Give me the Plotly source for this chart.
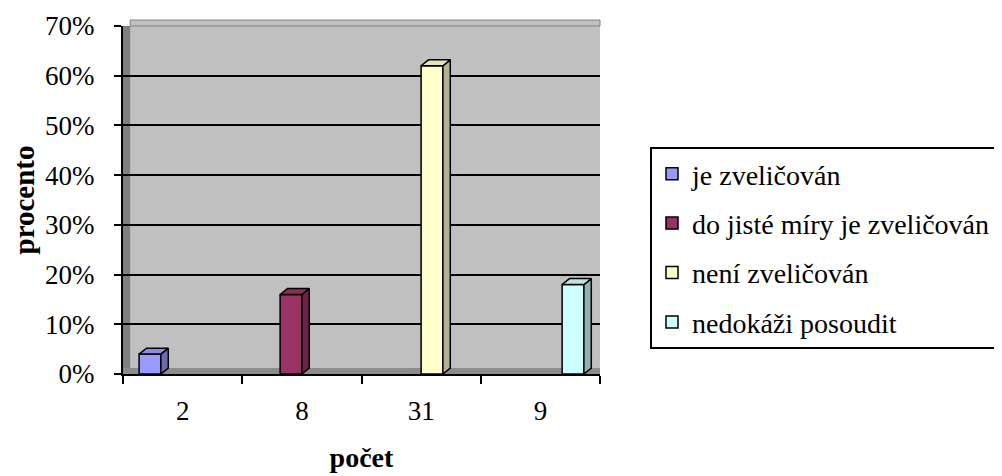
import plotly.graph_objects as go

# data
kategorie = ["2", "8", "31", "9"]
serie = ["je zveličován", "do jisté míry je zveličován", "není zveličován", "nedokáži posoudit"]
procenta = [4, 16, 62, 18]

barvy = ["#9999FF", "#993366", "#FFFFCC", "#CCFFFF"]
barvy_vrch = ["#8A8AE6", "#8A2E5C", "#E6E6B8", "#B8E6E6"]
barvy_bok = ["#6B6BB3", "#6B2447", "#B3B38F", "#8FB3B3"]

FONT = "Liberation Serif, Times New Roman, serif"
BARGAP = 0.27
DX = 0.062   # hloubka 3D efektu (osa x)
DY = 1.2     # hloubka 3D efektu (osa y, v %)

# stránka má okraj 8 px, proto je vše posunuto
L, T, B_Y, R_X = 115, 18, 366, 592
W, H = 1002, 476
plot_w, plot_h = R_X - L, B_Y - T

sirka = (1 - BARGAP) / len(serie)

fig = go.Figure()

# neviditelná stopa jen kvůli kategorické ose
fig.add_trace(go.Scatter(
    x=kategorie, y=[0] * len(kategorie), mode="markers",
    marker=dict(opacity=0), showlegend=False, hoverinfo="skip",
))

for i, (nazev, hodnota) in enumerate(zip(serie, procenta)):
    levy = i - (1 - BARGAP) / 2 + i * sirka
    pravy = levy + sirka
    stred = levy + sirka / 2

    # přední stěna sloupce
    fig.add_trace(go.Bar(
        x=[stred], y=[hodnota], width=[sirka], name=nazev, legendgroup=nazev,
        marker=dict(color=barvy[i], line=dict(color="black", width=1.5)),
        xaxis="x2", yaxis="y",
    ))
    # bok
    fig.add_trace(go.Scatter(
        x=[pravy, pravy + DX, pravy + DX, pravy, pravy],
        y=[0, DY, hodnota + DY, hodnota, 0],
        fill="toself", fillcolor=barvy_bok[i], mode="lines",
        line=dict(color="black", width=1.5),
        showlegend=False, hoverinfo="skip", xaxis="x2", yaxis="y",
    ))
    # vršek
    fig.add_trace(go.Scatter(
        x=[levy, levy + DX, pravy + DX, pravy, levy],
        y=[hodnota, hodnota + DY, hodnota + DY, hodnota, hodnota],
        fill="toself", fillcolor=barvy_vrch[i], mode="lines",
        line=dict(color="black", width=1.5),
        showlegend=False, hoverinfo="skip", xaxis="x2", yaxis="y",
    ))

fig.update_layout(
    width=W, height=H,
    margin=dict(l=L, r=W - R_X, t=T, b=H - B_Y, autoexpand=False),
    paper_bgcolor="white",
    plot_bgcolor="#C0C0C0",
    barmode="overlay",
    font=dict(family=FONT, size=27, color="black"),
    xaxis=dict(
        type="category", categoryarray=kategorie, range=[-0.5, 3.5],
        tickson="boundaries", ticks="outside", ticklen=8, tickwidth=2,
        tickcolor="black", showline=True, linecolor="black", linewidth=2,
        showgrid=False, zeroline=False, ticklabelstandoff=12,
        tickfont=dict(family=FONT, size=27),
        title=dict(text="<b>počet</b>", font=dict(family=FONT, size=28), standoff=22),
    ),
    xaxis2=dict(overlaying="x", range=[-0.5, 3.5], visible=False),
    yaxis=dict(
        range=[0, 70], tick0=0, dtick=10, ticksuffix="%",
        ticks="outside", ticklen=7, tickwidth=2, tickcolor="black",
        showline=True, linecolor="black", linewidth=2,
        showgrid=True, gridcolor="black", gridwidth=2, zeroline=False,
        ticklabelstandoff=14,
        tickfont=dict(family=FONT, size=27),
        title=dict(text="<b>procento</b>", font=dict(family=FONT, size=29), standoff=12),
    ),
    legend=dict(
        x=(642 - L) / plot_w, xanchor="left",
        y=(B_Y - 139) / plot_h, yanchor="top",
        bgcolor="white", bordercolor="black", borderwidth=2,
        font=dict(family=FONT, size=28),
        tracegroupgap=10,
    ),
    shapes=[
        # horní okraj zadní stěny
        dict(type="rect", xref="paper", yref="paper", x0=0.015, x1=1,
             y0=1, y1=1 + 6 / plot_h,
             fillcolor="#C0C0C0", line=dict(color="#808080", width=1), layer="below"),
        # levá boční stěna
        dict(type="rect", xref="paper", yref="paper", x0=0, x1=0.015, y0=0, y1=1,
             fillcolor="#808080", line=dict(width=0), layer="below"),
        # podlaha
        dict(type="rect", xref="paper", yref="y", x0=0, x1=1, y0=0, y1=DY,
             fillcolor="#8C8C8C", line=dict(width=0), layer="below"),
    ],
    showlegend=True,
)

fig.write_html("out.html")
